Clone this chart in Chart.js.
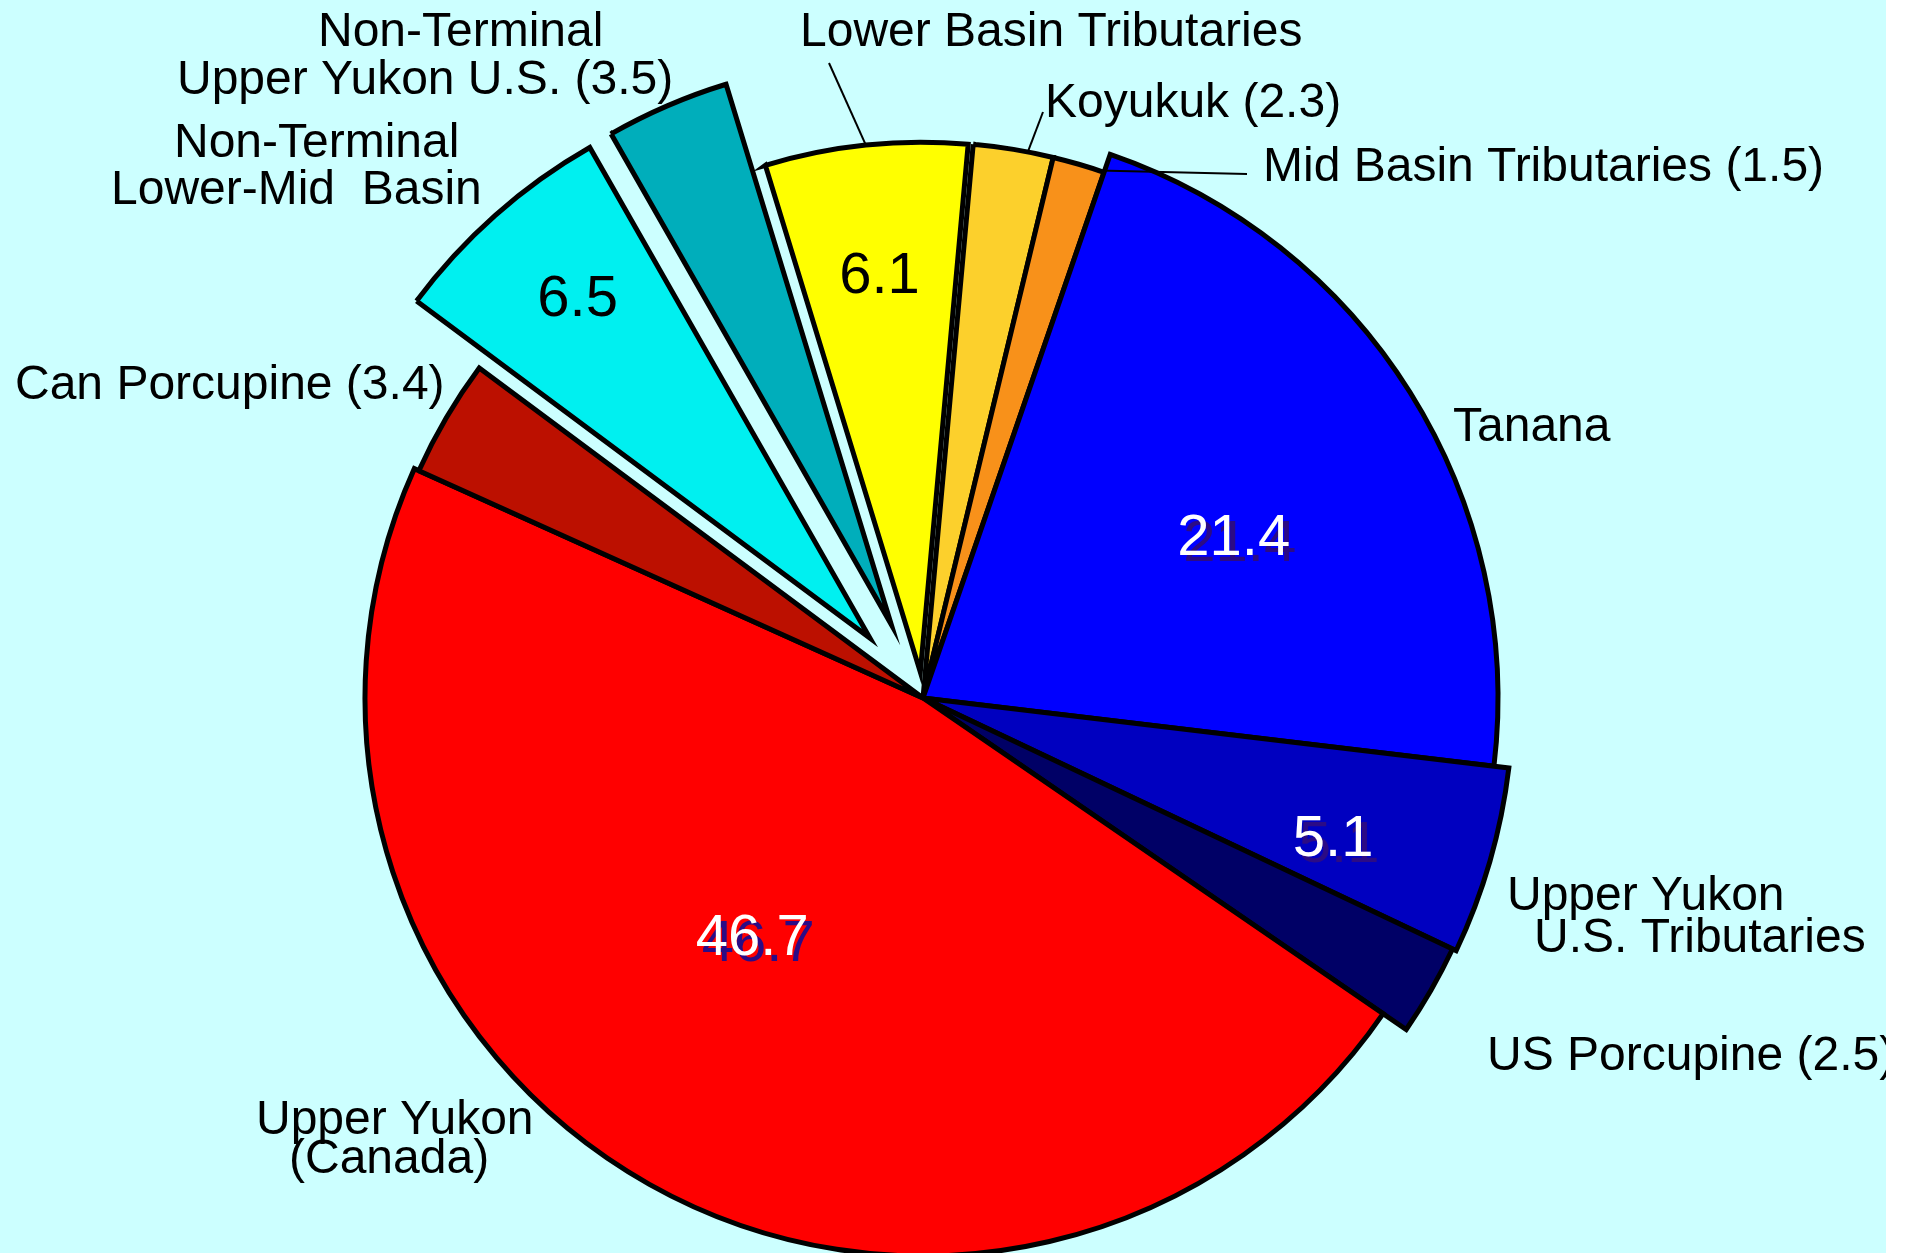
<!DOCTYPE html>
<html>
<head>
<meta charset="utf-8">
<title>Yukon River stock proportions</title>
<script src="https://cdn.jsdelivr.net/npm/chart.js"></script>
<style>
  html, body { margin: 0; padding: 0; background: #fff; }
  #wrap { width: 1886px; height: 1253px; background: #ccffff; overflow: hidden; }
</style>
</head>
<body>
<div id="wrap"><canvas id="myChart" width="1886" height="1253"></canvas></div>
<script>
// slices, clockwise from the top
const stocks = [
  "Lower Basin Tributaries",
  "Koyukuk",
  "Mid Basin Tributaries",
  "Tanana",
  "Upper Yukon U.S. Tributaries",
  "US Porcupine",
  "Upper Yukon (Canada)",
  "Can Porcupine",
  "Non-Terminal Lower-Mid Basin",
  "Non-Terminal Upper Yukon U.S.",
];
const shares = [6.1, 2.3, 1.5, 21.4, 5.1, 2.5, 46.7, 3.4, 6.5, 3.5];
const colors = [
  "#ffff00", "#fcd02c", "#f8911a", "#0000ff", "#0000c0",
  "#000066", "#ff0000", "#bc1000", "#00f0f0", "#00aebb",
];

// pulled-out slices (px) and the slightly uneven radius of the drawing
const explode = [26, 0, 0, 0, 0, 0, 0, 0, 80, 80];
const sliceRadius = [530, 556, 556, 575, 590, 586, 558, 553, 565, 565];

// numbers printed inside slices: slice, distance from slice centre, angle nudge (deg), colour
const insideLabels = [
  [0, 397, 0, "#000000"],
  [3, 349, 5, "#ffffff"],
  [4, 434, 3, "#ffffff"],
  [6, 295, 6, "#ffffff"],
  [8, 447, 0.7, "#000000"],
];

// outside names: slice, text ({v} = value), left x, baseline y
const nameLines = [
  [0, "Lower Basin Tributaries", 800, 46],
  [1, "Koyukuk ({v})", 1045, 117],
  [2, "Mid Basin Tributaries ({v})", 1263, 181],
  [3, "Tanana", 1453, 441],
  [4, "Upper Yukon", 1507, 910],
  [4, "U.S. Tributaries", 1534, 952],
  [5, "US Porcupine ({v})", 1487, 1070],
  [6, "Upper Yukon", 256, 1134],
  [6, "(Canada)", 289, 1173],
  [7, "Can Porcupine ({v})", 15, 399],
  [8, "Non-Terminal", 174, 157],
  [8, "Lower-Mid  Basin", 111, 204],
  [9, "Non-Terminal", 318, 46],
  [9, "Upper Yukon U.S. ({v})", 177, 94],
];

// leader lines: slice, position along the arc (0..1), end point
const leaders = [
  [0, 0.5, 829, 63],
  [1, 0.68, 1043, 112],
  [2, 0.9, 1247, 174],
];

const FONT = '"Liberation Sans", Arial, sans-serif';

const explodePlugin = {
  id: "explode",
  afterDatasetUpdate(chart, args) {
    args.meta.data.forEach((arc, i) => {
      const mid = (arc.startAngle + arc.endAngle) / 2;
      arc.x += Math.cos(mid) * explode[i];
      arc.y += Math.sin(mid) * explode[i];
      arc.outerRadius = sliceRadius[i];
    });
  },
};

const labelPlugin = {
  id: "pieLabels",
  afterDatasetsDraw(chart) {
    const ctx = chart.ctx;
    const arcs = chart.getDatasetMeta(0).data;
    ctx.save();

    // leader lines
    ctx.strokeStyle = "#000";
    ctx.lineWidth = 2;
    leaders.forEach(([i, t, ex, ey]) => {
      const arc = arcs[i];
      const a = arc.startAngle + t * (arc.endAngle - arc.startAngle);
      ctx.beginPath();
      ctx.moveTo(arc.x + Math.cos(a) * arc.outerRadius, arc.y + Math.sin(a) * arc.outerRadius);
      ctx.lineTo(ex, ey);
      ctx.stroke();
    });

    // names
    ctx.fillStyle = "#000";
    ctx.font = "48px " + FONT;
    ctx.textAlign = "left";
    ctx.textBaseline = "alphabetic";
    nameLines.forEach(([i, text, x, y]) => {
      ctx.fillText(text.replace("{v}", shares[i].toFixed(1)), x, y);
    });

    // values inside slices
    ctx.font = "58px " + FONT;
    ctx.textAlign = "center";
    ctx.textBaseline = "middle";
    insideLabels.forEach(([i, dist, nudge, color]) => {
      const arc = arcs[i];
      const a = (arc.startAngle + arc.endAngle) / 2 + nudge * Math.PI / 180;
      const x = arc.x + Math.cos(a) * dist;
      const y = arc.y + Math.sin(a) * dist;
      const txt = shares[i].toFixed(1);
      if (color === "#ffffff") {
        ctx.fillStyle = "#2b0b85";
        ctx.fillText(txt, x + 6, y + 6);
      }
      ctx.fillStyle = color;
      ctx.fillText(txt, x, y);
    });
    ctx.restore();
  },
};

const config = {
  type: "pie",
  data: {
    labels: stocks,
    datasets: [
      {
        data: shares,
        backgroundColor: colors,
        borderColor: "#000000",
        borderWidth: 5,
        borderJoinStyle: "miter",
        clip: false,
      },
    ],
  },
  options: {
    responsive: false,
    animation: false,
    events: [],
    rotation: -17,
    radius: 560,
    layout: { padding: { left: 0, right: 40, top: 143, bottom: 0 } },
    plugins: {
      legend: { display: false },
      tooltip: { enabled: false },
    },
  },
  plugins: [explodePlugin, labelPlugin],
};

new Chart(document.getElementById("myChart"), config);
</script>
</body>
</html>
